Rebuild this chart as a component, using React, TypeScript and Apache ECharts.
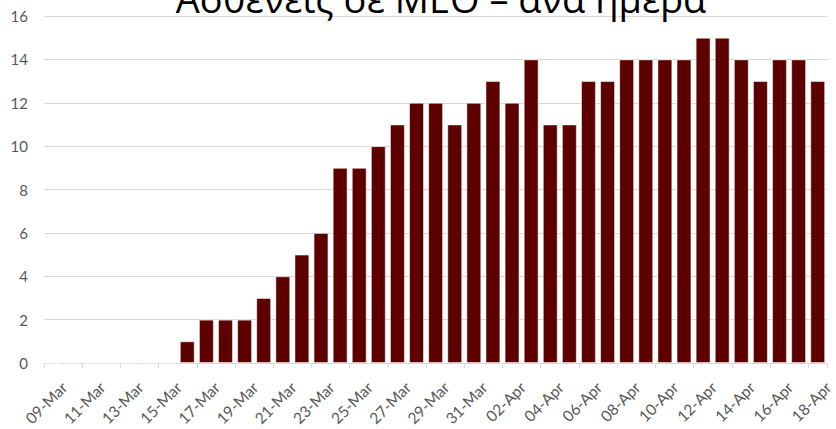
import React, { useEffect, useRef } from "react";
import * as echarts from "echarts";

const categories: string[] = [
  "09-Mar", "10-Mar", "11-Mar", "12-Mar", "13-Mar", "14-Mar", "15-Mar", "16-Mar",
  "17-Mar", "18-Mar", "19-Mar", "20-Mar", "21-Mar", "22-Mar", "23-Mar", "24-Mar",
  "25-Mar", "26-Mar", "27-Mar", "28-Mar", "29-Mar", "30-Mar", "31-Mar",
  "01-Apr", "02-Apr", "03-Apr", "04-Apr", "05-Apr", "06-Apr", "07-Apr", "08-Apr",
  "09-Apr", "10-Apr", "11-Apr", "12-Apr", "13-Apr", "14-Apr", "15-Apr", "16-Apr",
  "17-Apr", "18-Apr",
];

const icuPatients: number[] = [
  0, 0, 0, 0, 0, 0, 0, 1,
  2, 2, 2, 3, 4, 5, 6, 9,
  9, 10, 11, 12, 12, 11, 12,
  13, 12, 14, 11, 11, 13, 13, 14,
  14, 14, 14, 15, 15, 14, 13, 14,
  14, 13,
];

const titleText = "Ασθενείς σε ΜΕΘ – ανά ημέρα";

export default function App() {
  const ref = useRef<HTMLDivElement>(null);
  useEffect(() => {
    document.body.style.margin = "0";
    const chart = echarts.init(ref.current!, undefined, { renderer: "svg" });
    chart.setOption({
      animation: false,
      backgroundColor: "#ffffff",
      graphic: [
        {
          type: "text",
          x: 441,
          y: 17,
          style: {
            text: titleText,
            font: "38px 'Open Sans'",
            fill: "#000000",
            align: "center",
            verticalAlign: "bottom",
          },
          z: 100,
        },
      ],
      grid: { left: 44, right: 0, top: 16, bottom: 66, containLabel: false },
      xAxis: {
        type: "category",
        data: categories,
        boundaryGap: true,
        axisLine: { lineStyle: { color: "#d9d9d9", width: 1 } },
        axisTick: { show: true, interval: 1, length: 5, lineStyle: { color: "#d9d9d9" } },
        axisLabel: {
          interval: 1,
          rotate: 45,
          margin: 11,
          align: "right",
          verticalAlign: "top",
          padding: [7, 0, 0, 0],
          color: "#595959",
          fontFamily: "Lato",
          fontSize: 15.5,
        },
      },
      yAxis: {
        type: "value",
        min: 0,
        max: 16,
        interval: 2,
        axisLine: { show: false },
        axisTick: { show: false },
        splitLine: { lineStyle: { color: "#d9d9d9", width: 1 } },
        axisLabel: {
          color: "#595959",
          fontFamily: "Lato",
          fontSize: 15,
          margin: 16,
        },
      },
      series: [
        {
          type: "bar",
          data: icuPatients,
          barCategoryGap: "22%",
          itemStyle: {
            color: "#5c0000",
            borderColor: "rgba(255,255,255,0.5)",
            borderWidth: 1,
          },
        },
      ],
    });
    return () => chart.dispose();
  }, []);
  return <div ref={ref} style={{ width: 836, height: 429 }} />;
}
